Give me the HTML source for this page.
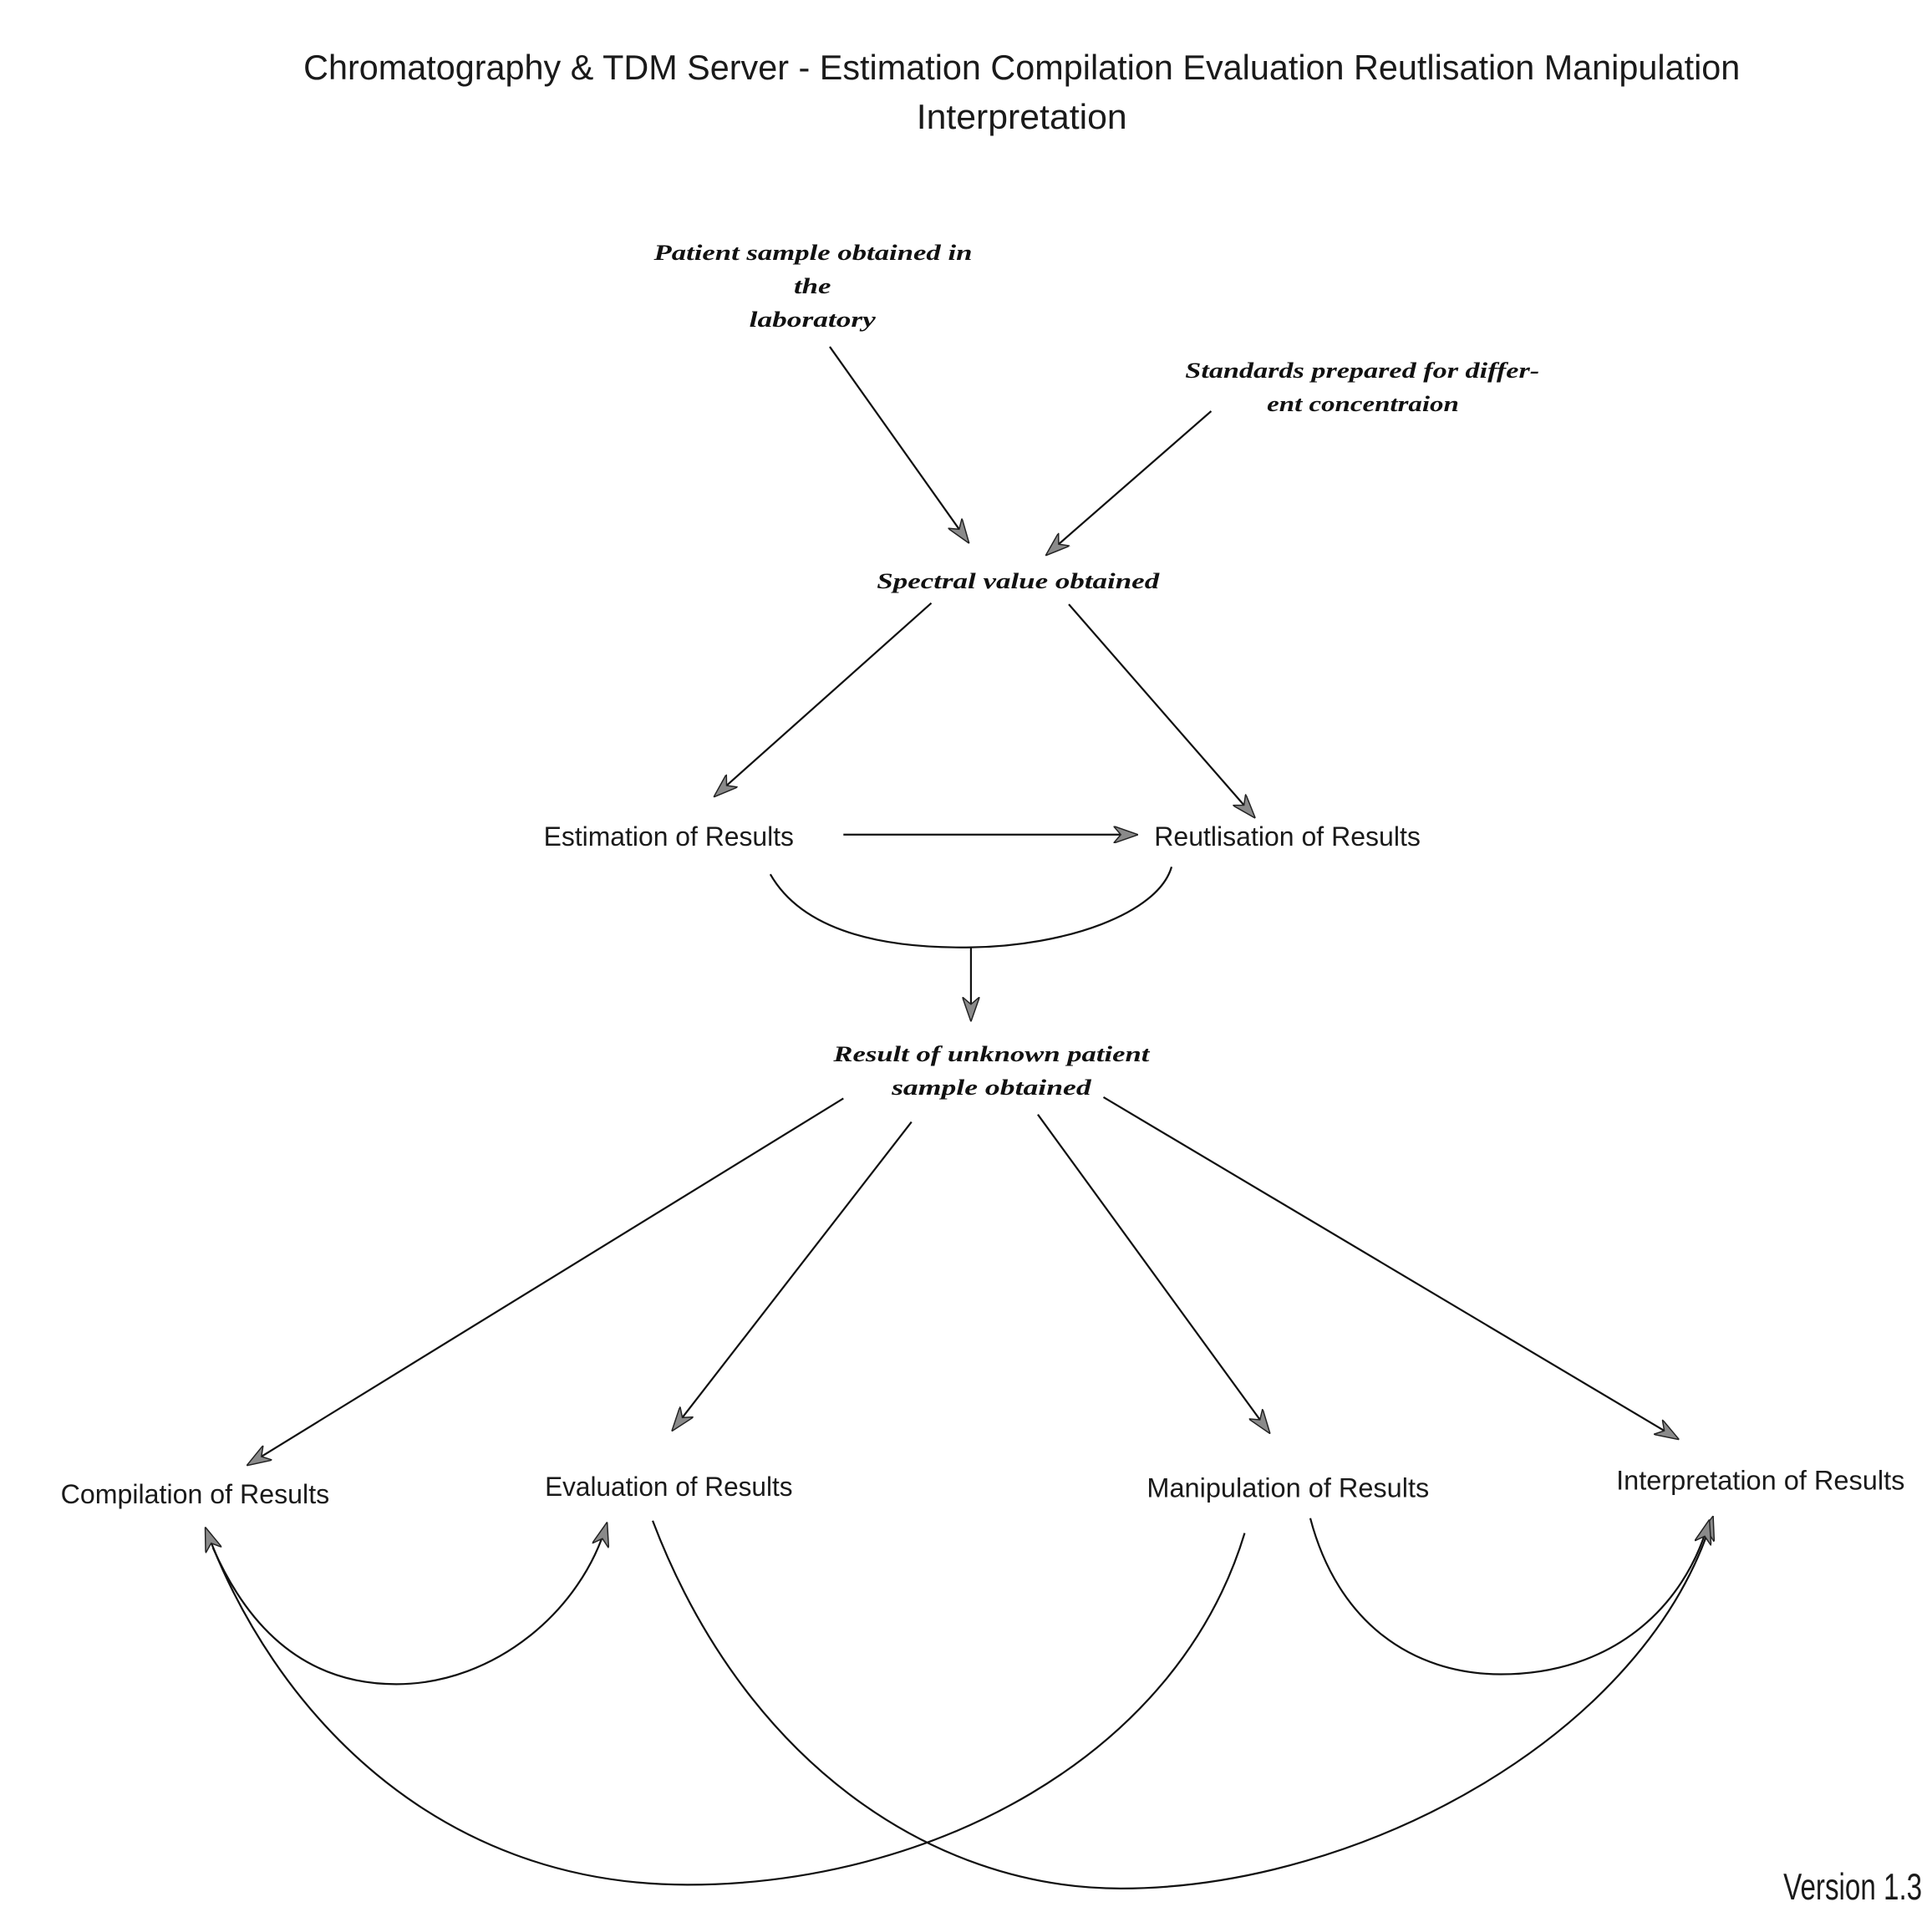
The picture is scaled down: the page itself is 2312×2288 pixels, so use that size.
<!DOCTYPE html>
<html><head><meta charset="utf-8"><style>
html,body{margin:0;padding:0;background:#fff;}
svg{display:block;}
.t{font-family:"Liberation Sans",sans-serif;fill:#1a1a1a;}
.s{font-family:"Liberation Serif",serif;font-style:italic;font-weight:bold;fill:#111;}
.l{fill:none;stroke:#111;stroke-width:1.5;}
</style></head><body>
<svg width="2312" height="2288" viewBox="0 0 1560 1544" preserveAspectRatio="none" xmlns="http://www.w3.org/2000/svg">
<defs>
<marker id="a" viewBox="0 0 20 14" refX="19" refY="7" markerWidth="20" markerHeight="14" markerUnits="userSpaceOnUse" orient="auto">
<path d="M0,0 L20,7 L0,14 L6,7 Z" fill="#8a8a8a" stroke="#222" stroke-width="1"/>
</marker>
</defs>
<text class="t" x="245" y="64" font-size="28" textLength="1160" lengthAdjust="spacingAndGlyphs">Chromatography &amp; TDM Server - Estimation Compilation Evaluation Reutlisation Manipulation</text>
<text class="t" x="740" y="104" font-size="28" textLength="170" lengthAdjust="spacingAndGlyphs">Interpretation</text>

<text class="s" x="528" y="210" font-size="18" textLength="257" lengthAdjust="spacingAndGlyphs">Patient sample obtained in</text>
<text class="s" x="641" y="237" font-size="18" textLength="30" lengthAdjust="spacingAndGlyphs">the</text>
<text class="s" x="605" y="264" font-size="18" textLength="102" lengthAdjust="spacingAndGlyphs">laboratory</text>
<text class="s" x="957" y="305" font-size="18" textLength="286" lengthAdjust="spacingAndGlyphs">Standards prepared for differ-</text>
<text class="s" x="1023" y="332" font-size="18" textLength="155" lengthAdjust="spacingAndGlyphs">ent concentraion</text>
<text class="s" x="708" y="475" font-size="18" textLength="228" lengthAdjust="spacingAndGlyphs">Spectral value obtained</text>
<text class="s" x="673" y="857" font-size="18" textLength="255" lengthAdjust="spacingAndGlyphs">Result of unknown patient</text>
<text class="s" x="720" y="884" font-size="18" textLength="161" lengthAdjust="spacingAndGlyphs">sample obtained</text>

<text class="t" x="439" y="683" font-size="22" textLength="202" lengthAdjust="spacingAndGlyphs">Estimation of Results</text>
<text class="t" x="932" y="683" font-size="22" textLength="215" lengthAdjust="spacingAndGlyphs">Reutlisation of Results</text>
<text class="t" x="49" y="1214" font-size="22" textLength="217" lengthAdjust="spacingAndGlyphs">Compilation of Results</text>
<text class="t" x="440" y="1208" font-size="22" textLength="200" lengthAdjust="spacingAndGlyphs">Evaluation of Results</text>
<text class="t" x="926" y="1209" font-size="22" textLength="228" lengthAdjust="spacingAndGlyphs">Manipulation of Results</text>
<text class="t" x="1305" y="1203" font-size="22" textLength="233" lengthAdjust="spacingAndGlyphs">Interpretation of Results</text>
<text class="t" x="1440" y="1534" font-size="30" fill="#333" textLength="112" lengthAdjust="spacingAndGlyphs">Version 1.3</text>

<line class="l" x1="670" y1="280" x2="782" y2="438" marker-end="url(#a)"/>
<line class="l" x1="978" y1="332" x2="845" y2="448" marker-end="url(#a)"/>
<line class="l" x1="752" y1="487" x2="577" y2="643" marker-end="url(#a)"/>
<line class="l" x1="863" y1="488" x2="1013" y2="660" marker-end="url(#a)"/>
<line class="l" x1="681" y1="674" x2="918" y2="674" marker-end="url(#a)"/>
<path class="l" d="M622,706 C650,755 720,766 784,765 C860,764 935,738 946,700"/>
<line class="l" x1="784" y1="765" x2="784" y2="824" marker-end="url(#a)"/>
<line class="l" x1="681" y1="887" x2="200" y2="1183" marker-end="url(#a)"/>
<line class="l" x1="736" y1="906" x2="543" y2="1155" marker-end="url(#a)"/>
<line class="l" x1="838" y1="900" x2="1025" y2="1157" marker-end="url(#a)"/>
<line class="l" x1="891" y1="886" x2="1355" y2="1162" marker-end="url(#a)"/>

<path class="l" d="M172,1250 C205,1325 255,1360 320,1360 C400,1360 470,1300 490,1230" marker-end="url(#a)"/>
<path class="l" d="M527,1228 C600,1420 750,1525 905,1525 C1100,1525 1330,1400 1383,1225" marker-end="url(#a)"/>
<path class="l" d="M1005,1238 C950,1420 750,1522 555,1522 C350,1522 220,1380 166,1234" marker-end="url(#a)"/>
<path class="l" d="M1058,1226 C1080,1310 1140,1352 1212,1352 C1300,1352 1360,1300 1380,1228" marker-end="url(#a)"/>
</svg>
</body></html>
